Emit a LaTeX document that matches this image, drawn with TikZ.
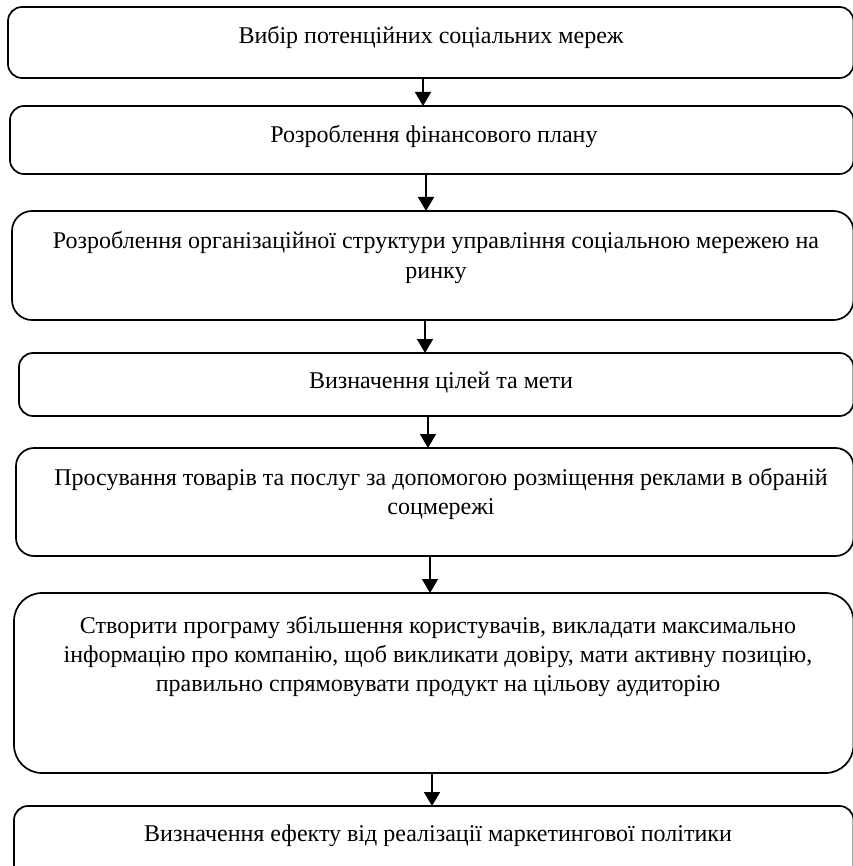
\documentclass[tikz,border=0pt]{standalone}
\usepackage{fontspec}
\setmainfont{Liberation Serif}
\usetikzlibrary{arrows.meta}
\begin{document}
\begin{tikzpicture}[x=1pt,y=-1pt,
  box/.style={draw=black, line width=1.7pt, rectangle, inner sep=0pt, outer sep=0pt},
  txt/.style={inner sep=0pt, align=center, font=\fontsize{24}{29}\selectfont},
  arr/.style={line width=1.6pt, -{Triangle[length=14pt,width=16pt]}}]
\useasboundingbox (0,0) rectangle (852,866);
% boxes (left,top,right=853.5,bottom)
\node[box, rounded corners=14pt, minimum width=845.5pt, minimum height=71pt] (b1) at (430.75,42.5) {};
\node[box, rounded corners=14pt, minimum width=843.5pt, minimum height=68pt] (b2) at (431.75,140) {};
\node[box, rounded corners=20pt, minimum width=841.5pt, minimum height=109pt] (b3) at (432.75,265.5) {};
\node[box, rounded corners=14pt, minimum width=834.5pt, minimum height=63pt] (b4) at (436.25,384.5) {};
\node[box, rounded corners=18pt, minimum width=837.5pt, minimum height=108pt] (b5) at (434.75,502) {};
\node[box, rounded corners=28pt, minimum width=839.5pt, minimum height=180pt] (b6) at (433.75,683) {};
\node[box, rounded corners=14pt, minimum width=839.5pt, minimum height=74pt] (b7) at (433.75,843) {};
% texts
\node[txt] (t1) at (431,37) {Вибір потенційних соціальних мереж};
\node[txt] (t2) at (434,137) {Розроблення фінансового плану};
\node[txt] (t3) at (436,257.5) {Розроблення організаційної структури управління соціальною мережею на\\ринку};
\node[txt] (t4) at (441,383) {Визначення цілей та мети};
\node[txt] (t5) at (441,493.5) {Просування товарів та послуг за допомогою розміщення реклами в обраній\\соцмережі};
\node[txt] (t6) at (438,656) {Створити програму збільшення користувачів, викладати максимально\\інформацію про компанію, щоб викликати довіру, мати активну позицію,\\правильно спрямовувати продукт на цільову аудиторію};
\node[txt] (t7) at (438,836) {Визначення ефекту від реалізації маркетингової політики};
% arrows
\draw[arr] ([xshift=-7.75pt]b1.south) -- ([xshift=-7.75pt]b1.south |- b2.north);
\draw[arr] ([xshift=-5.75pt]b2.south) -- ([xshift=-5.75pt]b2.south |- b3.north);
\draw[arr] ([xshift=-7.75pt]b3.south) -- ([xshift=-7.75pt]b3.south |- b4.north);
\draw[arr] ([xshift=-8.25pt]b4.south) -- ([xshift=-8.25pt]b4.south |- b5.north);
\draw[arr] ([xshift=-4.75pt]b5.south) -- ([xshift=-4.75pt]b5.south |- b6.north);
\draw[arr] ([xshift=-1.75pt]b6.south) -- ([xshift=-1.75pt]b6.south |- b7.north);
\end{tikzpicture}
\end{document}
